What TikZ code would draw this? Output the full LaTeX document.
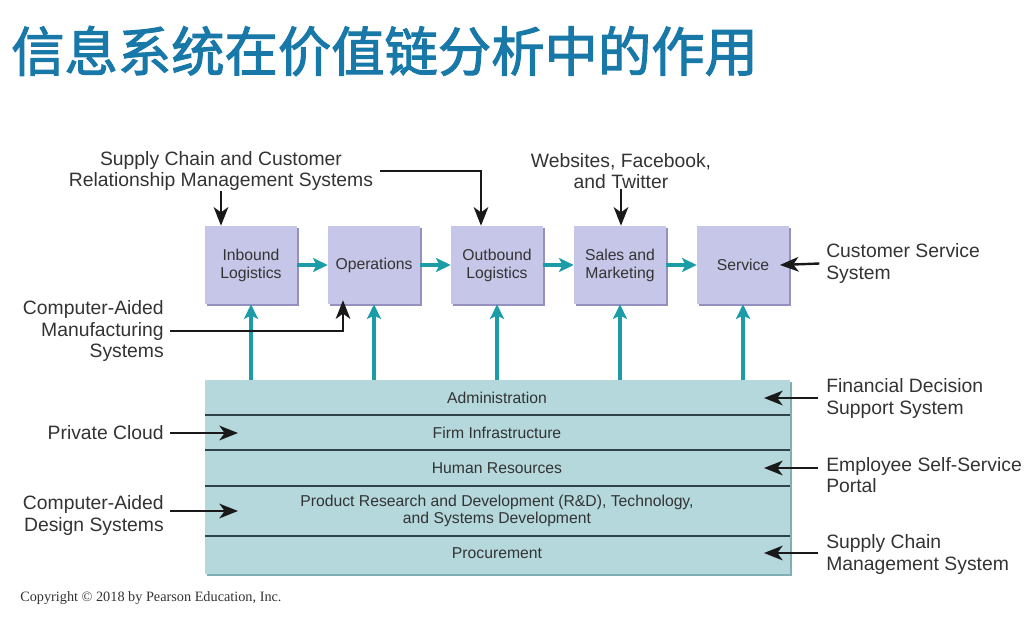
\documentclass[tikz,border=0pt]{standalone}
\usepackage{fontspec}
\setmainfont{Liberation Sans}
\newfontfamily\cjk{Noto Sans CJK SC}[RawFeature={embolden=2}]
\newfontfamily\serifnote{Liberation Serif}
\usetikzlibrary{arrows.meta}

\definecolor{titleblue}{HTML}{1878A8}
\definecolor{textgray}{HTML}{333333}
\definecolor{boxfill}{HTML}{C6C6E8}
\definecolor{boxshade}{HTML}{9490C0}
\definecolor{bandfill}{HTML}{B4D8DC}
\definecolor{bandshade}{HTML}{7FAFB5}
\definecolor{flowteal}{HTML}{1C9CA6}
\definecolor{divider}{HTML}{2E4448}

\begin{document}
\begin{tikzpicture}[x=0.75pt,y=-0.75pt,
  label/.style={text=textgray, font=\fontsize{14.5}{15.8}\selectfont, inner sep=0pt},
  activity/.style={fill=boxfill, minimum width=69pt, minimum height=58.5pt,
    inner sep=0pt, align=center, text=textgray,
    font=\fontsize{11.8}{13.5}\selectfont,
    preaction={fill=boxshade, transform canvas={xshift=1.6pt,yshift=-1.6pt}}},
  band/.style={fill=bandfill, minimum width=438.75pt, minimum height=145.5pt,
    inner sep=0pt,
    preaction={fill=bandshade, transform canvas={xshift=1.4pt,yshift=-1.4pt}}},
  rowtext/.style={text=textgray, align=center, inner sep=0pt,
    font=\fontsize{11.8}{13}\selectfont},
  flow/.style={draw=flowteal, line width=2.8pt,
    -{Stealth[length=11pt,width=10.5pt,inset=2.5pt]}},
  sysarrow/.style={draw=black!90, line width=1.8pt,
    -{Stealth[length=14pt,width=11pt,inset=4pt]}},
  rowline/.style={draw=divider, line width=1.5pt}
]
\useasboundingbox (0,0) rectangle (1033,637);

% heading
\node[anchor=west, inner sep=0pt, text=titleblue,
  font=\cjk\fontsize{40}{44}\selectfont] (title) at (11,51)
  {信息系统在价值链分析中的作用};

% primary activities
\node[activity] (inb) at (251,265) {Inbound\\Logistics};
\node[activity] (ops) at (374,265) {Operations};
\node[activity] (out) at (497,265) {Outbound\\Logistics};
\node[activity] (sal) at (620,265) {Sales and\\Marketing};
\node[activity] (svc) at (743,265) {Service};

% support activities
\node[band] (bnd) at (497.5,477) {};
\coordinate (d1) at (205,415);
\coordinate (d2) at (205,450);
\coordinate (d3) at (205,486);
\coordinate (d4) at (205,536);
\foreach \d in {d1,d2,d3,d4}
  \draw[rowline] (\d) -- (\d -| bnd.east);

\node[rowtext] (adm) at (497,398) {Administration};
\node[rowtext] (fir) at (497,433) {Firm Infrastructure};
\node[rowtext] (hum) at (497,468) {Human Resources};
\node[rowtext] (rnd) at (497,511) {Product Research and Development (R\&D), Technology,\\and Systems Development};
\node[rowtext] (pro) at (497,553) {Procurement};

% value flow
\draw[flow] (inb) -- (ops);
\draw[flow] (ops) -- (out);
\draw[flow] (out) -- (sal);
\draw[flow] (sal) -- (svc);
\foreach \b in {inb,ops,out,sal,svc}
  \draw[flow] (\b.south |- bnd.north) -- (\b.south);

% information systems
\node[label, align=center] (scm) at (221,171)
  {Supply Chain and Customer\\Relationship Management Systems};
\node[label, align=center] (web) at (621,171)
  {Websites, Facebook,\\and Twitter};
\node[label, align=left, anchor=west] (css) at (826,263.5)
  {Customer Service\\System};
\node[label, align=right, anchor=east] (cam) at (164,331)
  {Computer-Aided\\Manufacturing\\Systems};
\node[label, align=left, anchor=west] (fds) at (826,398.5)
  {Financial Decision\\Support System};
\node[label, anchor=east] (pcl) at (164,433) {Private Cloud};
\node[label, align=left, anchor=west] (ess) at (826,475.5)
  {Employee Self-Service\\Portal};
\node[label, align=right, anchor=east] (cad) at (164,515.5)
  {Computer-Aided\\Design Systems};
\node[label, align=left, anchor=west] (scs) at (826,554.5)
  {Supply Chain\\Management System};

\coordinate (rout) at (818,0);
\coordinate (rin) at (764,0);
\coordinate (lout) at (170,0);
\coordinate (lin) at (238,0);
\coordinate (scmx) at (221,0);
\coordinate (outx) at (481,0);
\coordinate (camx) at (343,0);

\draw[sysarrow] (scm.south) -- (scmx |- inb.north);
\draw[sysarrow] ([xshift=5pt]scm.east) -| (outx |- out.north);
\draw[sysarrow] (web.south) -- (web.south |- sal.north);
\draw[sysarrow] ([xshift=-5pt]css.west) -- ([xshift=-7pt]svc.east);
\draw[sysarrow] ([xshift=4.5pt]cam.east) -| ([yshift=3pt]camx |- ops.south);
\draw[sysarrow] (rout |- adm) -- (rin |- adm);
\draw[sysarrow] (lout |- fir) -- (lin |- fir);
\draw[sysarrow] (rout |- hum) -- (rin |- hum);
\draw[sysarrow] (lout |- rnd) -- (lin |- rnd);
\draw[sysarrow] (rout |- pro) -- (rin |- pro);

% credit line
\node[anchor=west, inner sep=0pt, text=textgray,
  font=\serifnote\fontsize{10.7}{12}\selectfont] (copy) at (20,598)
  {Copyright \textcopyright{} 2018 by Pearson Education, Inc.};
\end{tikzpicture}
\end{document}
